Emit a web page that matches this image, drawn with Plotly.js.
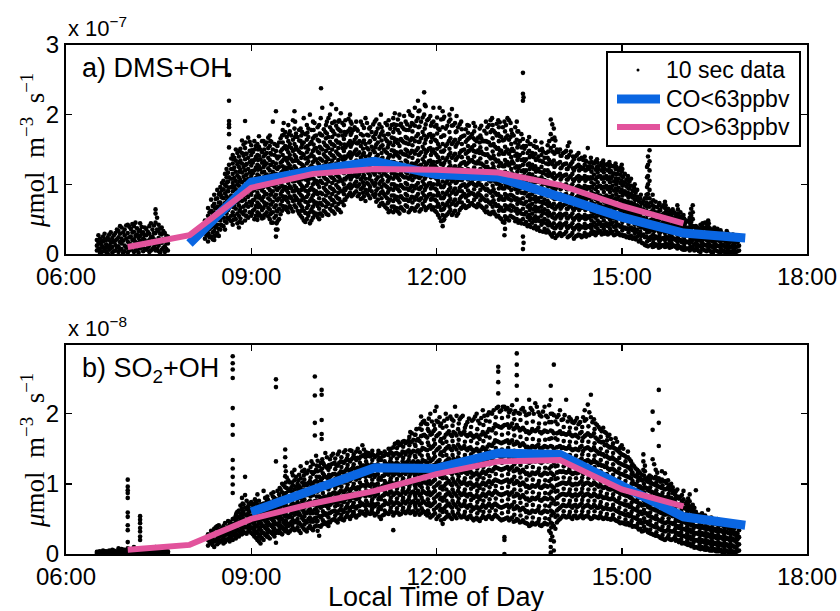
<!DOCTYPE html>
<html><head><meta charset="utf-8">
<script src="https://cdn.plot.ly/plotly-3.0.1.min.js"></script>
<style>html,body{margin:0;padding:0;background:#fff}#chart{width:840px;height:611px}</style>
</head><body><div id="chart"></div>
<script>
// ---------- axis labels ----------
const hourTicks = [6, 9, 12, 15, 18];
const hourTickText = ['06:00', '09:00', '12:00', '15:00', '18:00'];
const yTicksA = [0, 1, 2, 3];
const yTicksB = [0, 1, 2];
const legendLabels = ['10 sec data', 'CO&lt;63ppbv', 'CO&gt;63ppbv'];

// ---------- binned means (panel a, units 1e-7) ----------
const hoursA_low = [8, 9, 10, 11, 12, 13, 14, 15, 16, 17];
const dmsLowCO = [0.15, 1.03, 1.2, 1.33, 1.14, 1.1, 0.82, 0.53, 0.3, 0.23];
const hoursA_high = [7, 8, 9, 10, 11, 12, 13, 14, 15, 16];
const dmsHighCO = [0.1, 0.27, 0.95, 1.15, 1.22, 1.21, 1.17, 0.99, 0.69, 0.44];

// ---------- binned means (panel b, units 1e-8) ----------
const hoursB_low = [9, 10, 11, 12, 13, 14, 15, 16, 17];
const so2LowCO = [0.6, 0.92, 1.23, 1.22, 1.44, 1.42, 0.98, 0.53, 0.41];
const hoursB_high = [7, 8, 9, 10, 11, 12, 13, 14, 15, 16];
const so2HighCO = [0.06, 0.13, 0.5, 0.72, 0.9, 1.14, 1.32, 1.34, 0.92, 0.68];

// ---------- 10 sec data, panel a (time columns, values in 1e-7) ----------
const dmsTimes = [6.50,6.55,6.60,6.65,6.70,6.75,6.80,6.85,6.90,6.95,7.00,7.05,7.10,7.15,7.20,7.25,7.30,7.35,7.40,7.45,7.50,7.55,7.60,7.65,
8.25,8.30,8.35,8.40,8.45,8.50,8.55,8.60,8.64,8.70,8.75,8.80,8.85,8.90,8.95,9.00,9.05,9.10,9.15,9.20,9.25,9.30,9.35,9.40,9.45,9.50,9.55,9.60,9.65,9.70,9.75,9.80,9.85,9.90,9.95,
10.00,10.05,10.10,10.13,10.15,10.20,10.25,10.30,10.35,10.40,10.45,10.50,10.55,10.60,10.65,10.70,10.75,10.80,10.85,10.90,10.95,
11.00,11.05,11.10,11.15,11.20,11.25,11.30,11.35,11.40,11.45,11.50,11.55,11.60,11.65,11.70,11.75,11.80,11.85,11.90,11.95,
12.00,12.05,12.10,12.15,12.20,12.25,12.30,12.35,12.40,12.45,12.50,12.55,12.60,12.65,12.70,12.75,12.80,12.85,12.90,12.95,
13.00,13.05,13.10,13.15,13.20,13.25,13.30,13.35,13.40,13.45,13.50,13.55,13.60,13.65,13.70,13.75,13.80,13.85,13.90,13.95,
14.00,14.05,14.10,14.15,14.20,14.25,14.30,14.35,14.40,14.45,14.50,14.55,14.60,14.65,14.70,14.75,14.80,14.85,14.90,14.95,
15.00,15.05,15.10,15.15,15.20,15.25,15.30,15.35,15.40,15.45,15.50,15.55,15.60,15.65,15.70,15.75,15.80,15.85,15.90,15.95,
16.00,16.05,16.10,16.15,16.20,16.25,16.30,16.35,16.40,16.45,16.50,16.55,16.60,16.65,16.70,16.75,16.80,16.85,16.90];
const dmsCols = [
[0.05,0.12,0.2],[0.02,0.08,0.15,0.22],[0.04,0.1,0.18,0.25],[0.03,0.09,0.14,0.2],[0.06,0.12,0.2,0.28],[0.02,0.1,0.17,0.23],
[0.05,0.13,0.19,0.3],[0.03,0.11,0.24,0.33],[0.07,0.15,0.22,0.38],[0.04,0.12,0.27,0.35],[0.02,0.1,0.18,0.3,0.42],[0.06,0.14,0.25,0.36],
[0.03,0.12,0.21,0.32,0.4],[0.05,0.16,0.28,0.37],[0.08,0.19,0.26,0.34,0.44],[0.04,0.13,0.22,0.31],[0.06,0.15,0.27,0.36],[0.03,0.12,0.2,0.29,0.4],
[0.07,0.17,0.25,0.35],[0.05,0.14,0.3,0.45,0.58,0.64],[0.04,0.12,0.23,0.33,0.42],[0.06,0.16,0.28,0.38],[0.03,0.11,0.2,0.3],[0.05,0.15,0.25],
[0.22,0.35,0.48],[0.18,0.3,0.42,0.55,0.66],[0.25,0.38,0.5,0.62,0.78],[0.2,0.33,0.45,0.6,0.72,0.85],[0.3,0.42,0.55,0.68,0.8,0.92],
[0.35,0.48,0.6,0.74,0.88,0.96],[0.4,0.52,0.66,0.8,0.93,1.05],[0.45,0.58,0.7,0.83,0.97,1.1,1.22],
[0.5,0.66,0.8,0.95,1.1,1.28,1.53,1.72,1.82,1.86,1.91,2.2,2.57],
[0.42,0.6,0.75,0.9,1.02,1.15,1.3,1.42],[0.5,0.65,0.8,0.93,1.05,1.18,1.34,1.5],[0.38,0.55,0.7,0.85,0.98,1.1,1.25,1.4],
[0.45,0.6,0.76,0.9,1.03,1.17,1.3,1.45,1.63],[0.48,0.62,0.78,0.92,1.06,1.2,1.36,1.52,1.91],[0.52,0.68,0.82,0.95,1.08,1.22,1.38,1.67],
[0.55,0.7,0.85,0.98,1.12,1.27,1.42,1.56],[0.5,0.64,0.78,0.92,1.05,1.2,1.35,1.5,1.62],[0.49,0.6,0.74,0.88,1.0,1.14,1.28,1.42,1.58],
[0.55,0.68,0.8,0.95,1.08,1.22,1.36,1.5],[0.52,0.66,0.82,0.96,1.1,1.25,1.4,1.62],[0.6,0.72,0.86,1.0,1.14,1.3,1.45,1.6],
[0.5,0.64,0.78,0.92,1.06,1.2,1.35,1.55,1.7],[0.45,0.6,0.75,0.9,1.04,1.18,1.32,1.5,1.9],[0.25,0.35,0.55,0.7,0.85,1.0,1.15,1.3,1.48,2.05],
[0.5,0.65,0.8,0.95,1.1,1.25,1.4,1.6],[0.62,0.76,0.9,1.04,1.18,1.33,1.5,1.7],[0.68,0.82,0.96,1.1,1.24,1.38,1.55,1.75],
[0.6,0.74,0.88,1.02,1.16,1.3,1.46,1.62,1.85],[0.65,0.8,0.94,1.08,1.22,1.36,1.52,1.7],[0.7,0.84,0.98,1.12,1.26,1.42,1.58,1.8,2.05],
[0.62,0.78,0.92,1.06,1.2,1.34,1.5,1.68],[0.55,0.7,0.85,1.0,1.15,1.3,1.45,1.62,1.8],[0.48,0.62,0.8,0.95,1.1,1.26,1.42,1.6,1.95],
[0.5,0.66,0.82,0.98,1.14,1.3,1.46,1.64,1.85],[0.44,0.6,0.76,0.92,1.08,1.24,1.4,1.58,2.0],
[0.52,0.68,0.84,1.0,1.16,1.32,1.48,1.66,1.9],[0.58,0.74,0.9,1.05,1.2,1.36,1.52,1.7],[0.5,0.65,0.8,0.96,1.12,1.28,1.45,1.62,1.85],[2.38],
[0.55,0.7,0.86,1.02,1.18,1.34,1.5,1.7,2.1],[0.6,0.76,0.92,1.08,1.24,1.4,1.56,1.75],[0.56,0.72,0.88,1.04,1.2,1.36,1.52,1.68,1.95],
[0.62,0.78,0.94,1.1,1.26,1.42,1.58,1.78,2.15],[0.58,0.74,0.9,1.06,1.22,1.38,1.55,1.72,1.9],[0.64,0.8,0.96,1.12,1.28,1.44,1.6,1.8],
[0.6,0.75,0.9,1.06,1.22,1.4,1.58,1.76,2.02],[0.7,0.86,1.0,1.16,1.32,1.48,1.65,1.85],[0.82,0.95,1.1,1.25,1.4,1.56,1.75],
[0.88,1.0,1.14,1.3,1.46,1.62,1.8,2.0],[0.85,0.98,1.12,1.28,1.44,1.6,1.78],[0.9,1.04,1.18,1.34,1.5,1.68,1.9],
[0.86,1.0,1.15,1.3,1.46,1.62],[0.8,0.95,1.1,1.25,1.42,1.6,1.85],[0.76,0.92,1.08,1.24,1.4,1.58,1.95],[0.84,1.0,1.16,1.32,1.5,1.7],[0.9,1.05,1.2,1.36,1.54,1.75],
[0.82,0.98,1.14,1.3,1.46,1.65,1.9],[0.78,0.94,1.1,1.26,1.42,1.6,1.8],[0.72,0.88,1.04,1.2,1.36,1.54,1.72,2.0],[0.7,0.86,1.0,1.16,1.32,1.5,1.7],
[0.65,0.8,0.96,1.12,1.28,1.45,1.62,1.85],[0.62,0.78,0.94,1.1,1.26,1.42,1.6,1.8],[0.6,0.76,0.92,1.08,1.24,1.4,1.56,1.75,1.95],
[0.66,0.82,0.98,1.14,1.3,1.46,1.64,1.85],[0.58,0.74,0.9,1.06,1.22,1.38,1.55,1.74,2.0],[0.64,0.8,0.96,1.12,1.28,1.44,1.62,1.82],
[0.7,0.86,1.02,1.18,1.34,1.5,1.68,1.9],[0.6,0.76,0.92,1.08,1.24,1.4,1.58,1.78,2.05],[0.66,0.82,0.98,1.14,1.3,1.48,1.66,1.88],
[0.62,0.78,0.94,1.1,1.26,1.44,1.62,1.84,2.1],[0.7,0.86,1.02,1.18,1.34,1.52,1.72,1.95,2.2],[0.64,0.8,0.96,1.12,1.28,1.46,1.66,1.9],
[0.68,0.84,1.0,1.16,1.32,1.5,1.7,2.0,2.32],[0.66,0.82,0.98,1.14,1.3,1.48,1.68,1.92],[0.7,0.86,1.02,1.18,1.34,1.52,1.72,1.98],
[0.67,0.84,1.0,1.16,1.32,1.5,1.7,1.9,2.1],
[0.6,0.76,0.92,1.08,1.24,1.42,1.62,1.85],[0.52,0.68,0.84,1.0,1.16,1.34,1.54,1.78,2.1],[0.4,0.56,0.72,0.88,1.04,1.2,1.38,1.58,1.82,2.05],
[0.55,0.7,0.86,1.02,1.18,1.35,1.55,1.8],[0.6,0.76,0.92,1.08,1.24,1.42,1.62,1.9],[0.56,0.72,0.88,1.04,1.2,1.38,1.58,1.84,2.08],
[0.62,0.78,0.94,1.1,1.26,1.44,1.64,1.88],[0.58,0.74,0.9,1.06,1.22,1.4,1.6,1.82],[0.66,0.82,0.98,1.14,1.3,1.48,1.68,1.9],
[0.7,0.86,1.0,1.16,1.32,1.5,1.7],[0.68,0.84,0.98,1.14,1.3,1.46,1.64,1.85],[0.72,0.88,1.02,1.18,1.34,1.5,1.68],
[0.7,0.86,1.0,1.16,1.32,1.48,1.66,1.88],[0.67,0.82,0.98,1.14,1.3,1.46,1.62],[0.7,0.85,1.0,1.15,1.3,1.45,1.6,1.8],
[0.66,0.8,0.96,1.12,1.28,1.44,1.62],[0.6,0.76,0.92,1.08,1.24,1.42,1.62,1.9],[0.58,0.74,0.9,1.06,1.22,1.4,1.6,1.85],
[0.6,0.75,0.9,1.06,1.22,1.38,1.56,1.78,1.95],[0.57,0.72,0.88,1.04,1.2,1.36,1.54,1.74],
[0.55,0.7,0.86,1.02,1.18,1.34,1.52,1.72,1.92],[0.5,0.66,0.82,0.98,1.14,1.3,1.48,1.68],[0.27,0.45,0.62,0.78,0.94,1.1,1.26,1.44,1.64,1.9],
[0.52,0.68,0.84,1.0,1.16,1.32,1.5,1.7,1.95],[0.55,0.7,0.85,1.0,1.15,1.3,1.48,1.68,1.88],[0.52,0.67,0.82,0.98,1.14,1.3,1.48,1.7],
[0.5,0.65,0.8,0.95,1.1,1.26,1.44,1.64,1.9],[0.48,0.62,0.78,0.94,1.1,1.26,1.42,1.62],
[0.07,0.25,0.5,0.65,0.8,0.96,1.12,1.28,1.45,1.65,2.2,2.3,2.6],[0.46,0.6,0.75,0.9,1.05,1.2,1.36,1.55],
[0.42,0.56,0.7,0.85,1.0,1.15,1.3,1.48,1.68],[0.45,0.58,0.72,0.86,1.0,1.14,1.28,1.45],[0.4,0.54,0.68,0.82,0.96,1.1,1.26,1.44,1.62],
[0.38,0.52,0.66,0.8,0.94,1.08,1.22,1.4],[0.42,0.55,0.68,0.82,0.96,1.1,1.25,1.42,1.6],[0.36,0.5,0.64,0.78,0.92,1.06,1.2,1.38],
[0.34,0.48,0.62,0.76,0.9,1.04,1.2,1.38,1.56],[0.28,0.42,0.56,0.7,0.84,0.98,1.14,1.32,1.52,1.72,1.93],
[0.3,0.44,0.58,0.72,0.86,1.0,1.16,1.34,1.55,1.8],[0.26,0.4,0.54,0.68,0.82,0.96,1.12,1.3,1.5],
[0.3,0.44,0.58,0.72,0.86,1.0,1.15,1.32,1.5],[0.28,0.42,0.56,0.7,0.84,0.98,1.12,1.28,1.45],[0.32,0.45,0.58,0.72,0.86,1.0,1.14,1.3,1.48],
[0.26,0.4,0.54,0.68,0.82,0.96,1.1,1.26,1.42,1.6],[0.3,0.44,0.58,0.72,0.86,1.0,1.15,1.32],[0.25,0.38,0.52,0.66,0.8,0.94,1.08,1.24,1.4],
[0.28,0.42,0.56,0.7,0.84,0.98,1.12,1.28,1.45],[0.24,0.38,0.52,0.66,0.8,0.94,1.08,1.22,1.38],[0.3,0.43,0.56,0.7,0.84,0.98,1.12,1.28,1.4],
[0.28,0.4,0.54,0.68,0.82,0.96,1.1,1.25,1.52],[0.3,0.42,0.55,0.68,0.82,0.96,1.1,1.26,1.38],[0.32,0.45,0.58,0.72,0.86,1.0,1.14,1.3],
[0.3,0.42,0.55,0.68,0.82,0.96,1.1,1.25,1.36],[0.33,0.45,0.58,0.71,0.84,0.98,1.12,1.27],[0.3,0.42,0.55,0.68,0.82,0.96,1.1,1.24,1.34],
[0.32,0.44,0.56,0.7,0.84,0.98,1.12,1.28],[0.3,0.43,0.56,0.69,0.82,0.96,1.1,1.25,1.32],[0.32,0.45,0.58,0.7,0.84,0.98,1.12,1.26],
[0.28,0.4,0.53,0.66,0.8,0.94,1.08,1.22,1.3],[0.3,0.42,0.55,0.68,0.82,0.95,1.08,1.2],
[0.28,0.4,0.52,0.65,0.78,0.92,1.05,1.18,1.28],[0.27,0.38,0.5,0.63,0.76,0.9,1.03,1.15],[0.25,0.37,0.5,0.62,0.75,0.88,1.0,1.12],
[0.26,0.38,0.5,0.62,0.74,0.86,0.98,1.08],[0.24,0.36,0.48,0.6,0.72,0.84,0.95],[0.25,0.35,0.46,0.58,0.7,0.82,0.92],
[0.2,0.32,0.44,0.56,0.68,0.8],[0.15,0.28,0.4,0.52,0.64,0.76],[0.12,0.25,0.38,0.5,0.62,0.74,0.85],
[0.2,0.32,0.44,0.56,0.68,0.8,0.92,1.05,1.2,1.33,1.49],[0.1,0.22,0.34,0.46,0.58,0.7,0.85],[0.14,0.25,0.36,0.48,0.6,0.75],
[0.09,0.2,0.32,0.44,0.56,0.7],[0.12,0.22,0.33,0.44,0.56,0.68],[0.1,0.2,0.3,0.42,0.54,0.66,0.75],[0.14,0.24,0.34,0.45,0.56,0.65],
[0.1,0.2,0.3,0.4,0.52,0.62],[0.12,0.22,0.32,0.42,0.52,0.6],[0.08,0.18,0.28,0.38,0.48,0.58,0.7],[0.1,0.2,0.3,0.4,0.5,0.6],
[0.06,0.16,0.26,0.36,0.46,0.56],[0.08,0.18,0.28,0.38,0.48],[0.05,0.15,0.25,0.35,0.45,0.52],[0.1,0.2,0.3,0.4,0.5,0.6,0.7],
[0.06,0.15,0.24,0.33,0.4],[0.04,0.12,0.2,0.28,0.36],[0.08,0.16,0.24,0.32,0.4],[0.05,0.13,0.22,0.3,0.38,0.45],
[0.07,0.15,0.23,0.31,0.4,0.48],[0.03,0.11,0.19,0.27,0.35],[0.06,0.14,0.22,0.3,0.38],[0.04,0.12,0.2,0.28,0.36],
[0.02,0.1,0.18,0.26,0.34],[0.05,0.13,0.21,0.29],[0.03,0.11,0.19,0.27,0.33],[0.02,0.09,0.17,0.25],[0.04,0.12,0.2,0.28],
[0.03,0.1,0.18],[0.05,0.12,0.2]];

// panel a, in-between samples: each row = [time, values...]
const dmsRows2 = [
[6.525,0.07,0.16,0.27],[6.575,0.03,0.13,0.19],[6.625,0.06,0.21,0.29],[6.675,0.01,0.11,0.24],[6.725,0.08,0.16,0.31],[6.775,0.04,0.18,0.27],
[6.825,0.09,0.21,0.35],[6.875,0.06,0.17,0.29,0.4],[6.925,0.02,0.19,0.31],[6.975,0.09,0.22,0.41],[7.025,0.05,0.15,0.24,0.39],[7.075,0.1,0.2,0.31,0.43],
[7.125,0.07,0.17,0.26,0.45],[7.175,0.02,0.23,0.33],[7.225,0.1,0.16,0.29,0.39],[7.275,0.07,0.2,0.27,0.38],[7.325,0.09,0.18,0.32],[7.375,0.05,0.16,0.24,0.44],
[7.425,0.1,0.21,0.3,0.41],[7.475,0.08,0.19,0.35,0.52],[7.525,0.02,0.17,0.29,0.37],[7.575,0.09,0.21,0.33],[7.625,0.07,0.16,0.26],
[8.275,0.27,0.4],[8.325,0.24,0.36,0.47,0.6],[8.375,0.21,0.31,0.44,0.56,0.69],[8.425,0.27,0.38,0.53,0.66,0.79],[8.475,0.26,0.36,0.49,0.61,0.74,0.86],
[8.525,0.41,0.53,0.67,0.81,0.92,1.02],[8.575,0.35,0.47,0.59,0.73,0.87,0.99,1.15],[8.625,0.52,0.63,0.76,0.9,1.04,1.17],
[8.675,0.47,0.55,0.69,0.84,0.96,1.08,1.22,1.37],[8.725,0.55,0.69,0.81,0.97,1.09,1.24,1.38],[8.775,0.44,0.58,0.74,0.87,1.0,1.13,1.29,1.45],
[8.825,0.51,0.66,0.79,0.91,1.06,1.21,1.34,1.51],[8.875,0.57,0.68,0.83,0.97,1.11,1.25,1.41,1.57],[8.925,0.55,0.72,0.87,0.99,1.14,1.29,1.44],
[8.975,0.6,0.75,0.9,1.03,1.17,1.32,1.48,1.61],[9.025,0.62,0.77,0.91,1.02,1.16,1.31,1.46],[9.075,0.55,0.69,0.83,0.97,1.09,1.24,1.39,1.55],
[9.125,0.58,0.71,0.84,0.99,1.12,1.26,1.41,1.54,1.69],[9.175,0.51,0.63,0.77,0.91,1.05,1.17,1.31,1.46,1.62],[9.225,0.57,0.7,0.86,0.99,1.12,1.28,1.43,1.57],
[9.275,0.54,0.66,0.8,0.95,1.09,1.23,1.38,1.52,1.67],[9.325,0.45,0.59,0.71,0.86,0.99,1.13,1.28,1.43,1.61],[9.375,0.52,0.67,0.82,0.97,1.11,1.25,1.42,1.58],
[9.425,0.35,0.47,0.61,0.77,0.92,1.07,1.22,1.37,1.55],[9.475,0.57,0.71,0.86,1.01,1.16,1.31,1.47,1.66],[9.525,0.65,0.79,0.93,1.07,1.21,1.36,1.52,1.71,1.88],
[9.575,0.63,0.77,0.91,1.05,1.2,1.34,1.5,1.68],[9.625,0.69,0.83,0.97,1.11,1.27,1.42,1.58,1.76],[9.675,0.61,0.76,0.9,1.04,1.19,1.33,1.48,1.64,1.92],
[9.725,0.67,0.81,0.95,1.09,1.23,1.39,1.54,1.73],[9.775,0.58,0.73,0.88,1.03,1.17,1.31,1.47,1.63,1.78],[9.825,0.52,0.67,0.83,0.97,1.12,1.28,1.44,1.58,1.75],
[9.875,0.46,0.59,0.75,0.91,1.07,1.21,1.37,1.53,1.72],[9.925,0.55,0.7,0.86,1.02,1.17,1.33,1.5,1.68,1.8],[9.975,0.48,0.64,0.8,0.95,1.11,1.27,1.43,1.61,1.78],
[10.025,0.56,0.72,0.87,1.03,1.19,1.35,1.51,1.69,1.88],[10.075,0.53,0.69,0.86,1.0,1.15,1.31,1.47,1.64,1.82],[10.125,0.58,0.73,0.88,1.05,1.2,1.36,1.52,1.71,1.95],
[10.175,0.62,0.78,0.95,1.11,1.27,1.43,1.6,1.79],[10.225,0.57,0.74,0.9,1.07,1.22,1.38,1.55,1.73,1.9],[10.275,0.65,0.81,0.96,1.13,1.29,1.45,1.61,1.82,2.0],
[10.325,0.61,0.77,0.93,1.09,1.25,1.41,1.57,1.76],[10.375,0.67,0.83,0.99,1.14,1.3,1.47,1.63,1.84,2.08],[10.425,0.63,0.79,0.94,1.1,1.26,1.42,1.6,1.78,1.92],
[10.475,0.74,0.9,1.04,1.2,1.36,1.52,1.7,1.88],[10.525,0.78,0.92,1.07,1.22,1.37,1.53,1.71,1.92],[10.575,0.85,0.98,1.12,1.28,1.43,1.59,1.77,1.94],
[10.625,0.83,0.96,1.1,1.25,1.41,1.57,1.74,1.87],[10.675,0.88,1.01,1.15,1.31,1.47,1.64,1.82],[10.725,0.83,0.97,1.11,1.27,1.43,1.59,1.77],
[10.775,0.79,0.93,1.07,1.22,1.38,1.55,1.72,1.9],[10.825,0.83,0.98,1.13,1.28,1.45,1.63,1.81],[10.875,0.87,1.02,1.19,1.35,1.52,1.71,1.88],
[10.925,0.8,0.96,1.12,1.28,1.44,1.62,1.82],[10.975,0.85,1.01,1.17,1.33,1.49,1.68,1.86],[11.025,0.75,0.91,1.07,1.23,1.39,1.57,1.75,1.93],
[11.075,0.69,0.85,1.01,1.17,1.33,1.51,1.68,1.86],[11.125,0.73,0.9,1.06,1.22,1.38,1.56,1.76],[11.175,0.67,0.83,0.98,1.14,1.3,1.47,1.65,1.88],
[11.225,0.6,0.75,0.91,1.07,1.23,1.39,1.57,1.72,1.92],[11.275,0.68,0.84,1.0,1.16,1.32,1.49,1.67,1.85],[11.325,0.63,0.79,0.95,1.11,1.27,1.43,1.61,1.8,2.02],
[11.375,0.61,0.77,0.93,1.09,1.25,1.41,1.59,1.78,1.93],[11.425,0.67,0.83,0.99,1.15,1.31,1.47,1.65,1.87],[11.475,0.62,0.78,0.94,1.1,1.26,1.43,1.6,1.79,1.98],
[11.525,0.68,0.84,1.0,1.16,1.32,1.48,1.66,1.86],[11.575,0.63,0.79,0.95,1.11,1.27,1.45,1.63,1.83,2.0],[11.625,0.65,0.81,0.97,1.13,1.29,1.47,1.65,1.86],
[11.675,0.67,0.83,0.99,1.15,1.31,1.49,1.69,1.91],[11.725,0.61,0.77,0.93,1.09,1.25,1.43,1.61,1.83,2.06],[11.775,0.72,0.88,1.04,1.2,1.36,1.54,1.75,1.96],
[11.825,0.63,0.79,0.95,1.11,1.27,1.45,1.64,1.86,2.12],[11.875,0.68,0.85,1.01,1.17,1.33,1.51,1.71,1.94],[11.925,0.64,0.8,0.97,1.13,1.29,1.47,1.67,1.88],
[11.975,0.62,0.78,0.94,1.1,1.27,1.45,1.64,1.83],[12.025,0.56,0.72,0.88,1.05,1.21,1.39,1.58,1.8],[12.075,0.47,0.63,0.8,0.96,1.12,1.29,1.47,1.68,1.93],
[12.125,0.5,0.66,0.82,0.98,1.14,1.31,1.49,1.7,1.97],[12.175,0.57,0.73,0.89,1.05,1.21,1.38,1.58,1.84],[12.225,0.63,0.79,0.95,1.11,1.27,1.45,1.66,1.93],
[12.275,0.59,0.75,0.91,1.07,1.23,1.41,1.61,1.85],[12.325,0.55,0.71,0.87,1.03,1.19,1.37,1.57,1.76,1.98],[12.375,0.63,0.79,0.95,1.11,1.27,1.45,1.65,1.86],
[12.425,0.68,0.84,0.99,1.15,1.31,1.49,1.69],[12.475,0.66,0.81,0.96,1.12,1.28,1.44,1.61,1.79],[12.525,0.69,0.85,1.0,1.16,1.32,1.48,1.66,1.84],
[12.575,0.73,0.87,1.03,1.19,1.35,1.53,1.72],[12.625,0.69,0.84,0.99,1.15,1.31,1.47,1.64,1.83],[12.675,0.72,0.87,1.02,1.17,1.33,1.49,1.67],
[12.725,0.68,0.83,0.99,1.14,1.3,1.47,1.66,1.84],[12.775,0.63,0.78,0.94,1.1,1.26,1.43,1.62,1.77],[12.825,0.61,0.77,0.93,1.09,1.25,1.43,1.61,1.82],
[12.875,0.57,0.72,0.88,1.04,1.2,1.37,1.56,1.75,1.92],[12.925,0.61,0.77,0.93,1.09,1.25,1.41,1.58,1.77],[12.975,0.54,0.69,0.85,1.01,1.17,1.33,1.51,1.7,1.87],
[13.025,0.52,0.67,0.83,0.99,1.15,1.31,1.49,1.69,1.89],[13.075,0.46,0.62,0.78,0.94,1.1,1.26,1.44,1.63,1.82],[13.125,0.5,0.65,0.81,0.97,1.13,1.29,1.47,1.67,1.85],
[13.175,0.48,0.64,0.79,0.95,1.11,1.27,1.44,1.64,1.92],[13.225,0.53,0.69,0.84,1.0,1.16,1.33,1.51,1.73],[13.275,0.47,0.62,0.78,0.93,1.08,1.24,1.41,1.6,1.82],
[13.325,0.45,0.6,0.76,0.92,1.07,1.23,1.39,1.57,1.76],[13.375,0.44,0.58,0.73,0.88,1.03,1.19,1.35,1.53,1.72],[13.425,0.43,0.57,0.72,0.87,1.02,1.17,1.33,1.51],
[13.475,0.4,0.53,0.68,0.83,0.97,1.12,1.28,1.45,1.62],[13.525,0.39,0.52,0.66,0.8,0.95,1.1,1.25,1.41,1.58],[13.575,0.37,0.5,0.64,0.79,0.93,1.07,1.22,1.39,1.55],
[13.625,0.35,0.49,0.63,0.77,0.91,1.05,1.2,1.36,1.53],[13.675,0.33,0.47,0.61,0.75,0.89,1.03,1.18,1.34,1.49],[13.725,0.32,0.45,0.59,0.73,0.87,1.01,1.16,1.32,1.47],
[13.775,0.31,0.44,0.58,0.72,0.86,1.0,1.14,1.3,1.45],[13.825,0.31,0.45,0.59,0.73,0.87,1.01,1.17,1.35,1.62],[13.875,0.25,0.39,0.53,0.67,0.81,0.95,1.11,1.29,1.47,1.65,1.86],
[13.925,0.23,0.37,0.51,0.65,0.79,0.93,1.09,1.27,1.46,1.63],[13.975,0.28,0.42,0.56,0.7,0.84,0.98,1.13,1.3,1.46],[14.025,0.26,0.39,0.53,0.67,0.81,0.95,1.09,1.24,1.41],
[14.075,0.29,0.43,0.57,0.71,0.85,0.99,1.13,1.29,1.46],[14.125,0.24,0.37,0.51,0.65,0.79,0.93,1.07,1.22,1.39,1.55],[14.175,0.27,0.41,0.55,0.69,0.83,0.97,1.12,1.29,1.47],
[14.225,0.22,0.35,0.49,0.63,0.77,0.91,1.05,1.2,1.36],[14.275,0.26,0.4,0.54,0.68,0.82,0.96,1.1,1.26,1.42],[14.325,0.27,0.4,0.54,0.68,0.82,0.96,1.1,1.25],
[14.375,0.26,0.39,0.53,0.67,0.81,0.95,1.09,1.24,1.35],[14.425,0.25,0.38,0.51,0.65,0.79,0.93,1.07,1.21,1.33],[14.475,0.27,0.39,0.52,0.66,0.8,0.94,1.08,1.22,1.31],
[14.525,0.29,0.41,0.54,0.67,0.81,0.95,1.09,1.24],[14.575,0.27,0.39,0.52,0.65,0.79,0.93,1.07,1.21,1.33],[14.625,0.31,0.43,0.56,0.69,0.83,0.97,1.11,1.22],
[14.675,0.28,0.4,0.53,0.66,0.8,0.94,1.08,1.2,1.31],[14.725,0.29,0.41,0.54,0.67,0.81,0.95,1.09,1.22],[14.775,0.28,0.4,0.53,0.66,0.79,0.93,1.07,1.2,1.29],
[14.825,0.3,0.42,0.55,0.68,0.81,0.94,1.08,1.19],[14.875,0.27,0.39,0.51,0.64,0.78,0.91,1.04,1.16,1.26],[14.925,0.29,0.41,0.53,0.66,0.79,0.92,1.05,1.15],
[14.975,0.27,0.39,0.51,0.63,0.76,0.89,1.02,1.14,1.24],[15.025,0.26,0.37,0.49,0.61,0.74,0.87,1.0,1.11],[15.075,0.24,0.36,0.48,0.6,0.72,0.85,0.97,1.07],
[15.125,0.23,0.35,0.47,0.59,0.71,0.83,0.94,1.04],[15.175,0.22,0.34,0.46,0.58,0.7,0.81,0.91],[15.225,0.21,0.32,0.43,0.55,0.67,0.78,0.88],
[15.275,0.18,0.29,0.41,0.53,0.65,0.76],[15.325,0.16,0.27,0.38,0.5,0.62,0.73],[15.375,0.13,0.24,0.36,0.48,0.59,0.7,0.8],
[15.425,0.11,0.23,0.35,0.47,0.59,0.72,0.86,1.0,1.12,1.28,1.4],[15.475,0.13,0.25,0.37,0.49,0.61,0.74],[15.525,0.11,0.22,0.33,0.45,0.57,0.68],
[15.575,0.12,0.23,0.35,0.47,0.59,0.67],[15.625,0.1,0.2,0.31,0.42,0.53,0.63],[15.675,0.13,0.23,0.35,0.47,0.58,0.7],[15.725,0.11,0.22,0.32,0.43,0.53,0.62],
[15.775,0.09,0.19,0.29,0.4,0.5,0.59],[15.825,0.11,0.21,0.31,0.41,0.51,0.64],[15.875,0.1,0.2,0.3,0.4,0.5,0.57],[15.925,0.09,0.19,0.29,0.39,0.49,0.55],
[15.975,0.07,0.17,0.27,0.37,0.47,0.54],[16.025,0.06,0.16,0.26,0.36,0.44],[16.075,0.08,0.17,0.27,0.37,0.47],[16.125,0.07,0.17,0.27,0.37,0.46,0.55,0.65],
[16.175,0.05,0.14,0.23,0.31,0.39],[16.225,0.06,0.14,0.22,0.3,0.38],[16.275,0.03,0.11,0.19,0.27,0.35,0.42],[16.325,0.06,0.14,0.22,0.29,0.37],
[16.375,0.04,0.12,0.2,0.28,0.36,0.43],[16.425,0.05,0.13,0.21,0.29,0.37],[16.475,0.02,0.1,0.18,0.26,0.33],[16.525,0.05,0.13,0.21,0.29],
[16.575,0.03,0.11,0.19,0.27,0.31],[16.625,0.04,0.12,0.2,0.27],[16.675,0.02,0.1,0.18,0.24],[16.725,0.04,0.12,0.2,0.29],[16.775,0.03,0.11,0.19],
[16.825,0.02,0.08,0.15,0.23],[16.875,0.04,0.11,0.17]];

// panel a, further samples: each row = [time, values...]
const dmsRows3 = [
[8.31,0.28,0.44],[8.41,0.26,0.39,0.52,0.66],[8.51,0.42,0.55,0.7,0.84],[8.61,0.52,0.64,0.77,0.9,1.03,1.16],[8.71,0.49,0.67,0.82,0.96,1.08,1.22,1.36],
[8.81,0.46,0.62,0.77,0.91,1.04,1.18,1.32,1.48],[8.91,0.55,0.7,0.85,0.99,1.13,1.28,1.44,1.6],[9.01,0.58,0.73,0.9,1.05,1.19,1.34,1.49],
[9.11,0.55,0.67,0.81,0.94,1.07,1.21,1.35,1.5],[9.21,0.56,0.74,0.89,1.03,1.18,1.33,1.5],[9.31,0.57,0.71,0.85,0.99,1.13,1.28,1.45,1.62],
[9.41,0.44,0.62,0.78,0.93,1.08,1.23,1.4,1.56],[9.51,0.69,0.83,0.97,1.11,1.26,1.42,1.6,1.78],[9.61,0.67,0.81,0.95,1.09,1.24,1.38,1.54,1.72],
[9.71,0.77,0.91,1.05,1.19,1.34,1.5,1.68,1.9],[9.81,0.62,0.77,0.92,1.07,1.22,1.38,1.53,1.7],[9.91,0.58,0.74,0.9,1.06,1.22,1.38,1.55,1.74],
[10.01,0.6,0.76,0.92,1.08,1.24,1.4,1.57,1.78],[10.11,0.58,0.73,0.88,1.04,1.2,1.37,1.54,1.73],[10.21,0.68,0.84,1.0,1.16,1.32,1.48,1.66,1.85],
[10.31,0.7,0.86,1.02,1.18,1.34,1.5,1.68,1.88],[10.41,0.72,0.88,1.04,1.2,1.35,1.52,1.7,1.9],[10.51,0.78,0.94,1.08,1.24,1.4,1.57,1.75],
[10.61,0.94,1.07,1.22,1.38,1.54,1.71,1.9],[10.71,0.97,1.11,1.26,1.42,1.59,1.79],[10.81,0.88,1.03,1.18,1.34,1.51,1.7],
[10.91,0.92,1.08,1.24,1.41,1.6,1.8],[11.01,0.86,1.02,1.18,1.35,1.53,1.72],[11.11,0.8,0.96,1.12,1.28,1.45,1.63,1.82],
[11.21,0.73,0.88,1.04,1.2,1.36,1.53,1.72],[11.31,0.68,0.84,1.0,1.16,1.32,1.48,1.66,1.86],[11.41,0.66,0.82,0.98,1.14,1.3,1.46,1.64,1.85],
[11.51,0.78,0.94,1.1,1.26,1.42,1.59,1.78],[11.61,0.74,0.9,1.06,1.22,1.38,1.56,1.76,1.98],[11.71,0.78,0.94,1.1,1.26,1.42,1.61,1.82,2.05],
[11.81,0.76,0.92,1.08,1.24,1.4,1.59,1.8,2.14],[11.91,0.78,0.94,1.1,1.26,1.42,1.61,1.84],[12.01,0.68,0.84,1.0,1.16,1.32,1.51,1.73,1.96],
[12.11,0.48,0.64,0.8,0.96,1.12,1.28,1.47,1.7,1.94],[12.21,0.68,0.84,1.0,1.16,1.32,1.51,1.75,2.0],[12.31,0.7,0.86,1.02,1.18,1.35,1.54,1.75],
[12.41,0.74,0.9,1.06,1.22,1.39,1.58,1.79],[12.51,0.76,0.91,1.07,1.22,1.38,1.55,1.74],[12.61,0.78,0.93,1.08,1.24,1.4,1.56,1.76],
[12.71,0.77,0.92,1.07,1.22,1.37,1.53,1.7],[12.81,0.68,0.84,1.0,1.16,1.32,1.51,1.73],[12.91,0.68,0.83,0.98,1.14,1.3,1.47,1.66,1.85],
[13.01,0.62,0.78,0.94,1.1,1.26,1.43,1.62,1.82],[13.11,0.36,0.54,0.7,0.86,1.02,1.18,1.35,1.54,1.76],[13.21,0.62,0.77,0.92,1.07,1.22,1.39,1.58,1.78],
[13.31,0.58,0.72,0.88,1.03,1.18,1.35,1.53,1.76],[13.41,0.16,0.57,0.72,0.88,1.04,1.2,1.36,1.55,2.25],[13.51,0.49,0.63,0.77,0.92,1.07,1.22,1.39,1.58],
[13.61,0.47,0.61,0.75,0.89,1.03,1.18,1.35,1.53],[13.71,0.48,0.62,0.75,0.89,1.03,1.17,1.33,1.51],[13.81,0.41,0.55,0.69,0.83,0.97,1.12,1.29,1.47],
[13.91,0.37,0.51,0.65,0.79,0.93,1.08,1.25,1.44,1.67],[14.01,0.37,0.51,0.65,0.79,0.93,1.07,1.23,1.41],[14.11,0.39,0.52,0.65,0.79,0.93,1.07,1.22,1.39],
[14.21,0.37,0.51,0.65,0.79,0.93,1.07,1.23,1.4],[14.31,0.35,0.49,0.63,0.77,0.91,1.05,1.2,1.36],[14.41,0.37,0.5,0.63,0.77,0.91,1.05,1.2,1.34],
[14.51,0.36,0.48,0.61,0.75,0.89,1.03,1.18,1.32],[14.61,0.36,0.48,0.61,0.75,0.89,1.03,1.17,1.31],[14.71,0.36,0.48,0.61,0.75,0.89,1.03,1.17,1.29],
[14.81,0.36,0.49,0.62,0.75,0.89,1.03,1.17,1.28],[14.91,0.34,0.46,0.59,0.72,0.86,1.0,1.14,1.25],[15.01,0.34,0.46,0.58,0.71,0.84,0.98,1.11,1.22],
[15.11,0.31,0.43,0.56,0.68,0.81,0.94,1.06],[15.21,0.3,0.42,0.54,0.66,0.78,0.9,1.0],[15.31,0.26,0.38,0.5,0.62,0.74,0.85],
[15.41,0.18,0.31,0.44,0.56,0.68,0.8,0.96,1.1,1.25],[15.51,0.16,0.28,0.4,0.52,0.64,0.77],[15.61,0.15,0.26,0.38,0.5,0.62,0.73],
[15.71,0.15,0.25,0.36,0.48,0.6,0.7],[15.81,0.15,0.25,0.35,0.46,0.57],[15.91,0.13,0.23,0.33,0.43,0.53,0.64],[16.01,0.11,0.21,0.31,0.41,0.51],
[16.11,0.1,0.2,0.3,0.4,0.49,0.58],[16.21,0.1,0.19,0.27,0.35],[16.31,0.12,0.2,0.28,0.36,0.44],[16.41,0.11,0.19,0.27,0.35,0.44],
[16.51,0.1,0.18,0.26,0.34],[16.61,0.06,0.14,0.22,0.3],[16.71,0.07,0.15,0.23,0.3],[16.81,0.08,0.16,0.24]];

// ---------- 10 sec data, panel b (time columns, values in 1e-8) ----------
const so2Times = [6.50,6.55,6.60,6.65,6.70,6.75,6.80,6.85,6.90,6.95,7.00,7.05,7.10,7.15,7.20,7.25,7.30,7.35,7.40,7.45,7.50,7.55,7.60,7.65,
8.30,8.35,8.40,8.45,8.50,8.55,8.60,8.65,8.70,8.75,8.80,8.85,8.90,8.95,9.00,9.05,9.10,9.15,9.20,9.25,9.30,9.35,9.40,9.45,9.50,9.55,9.60,9.65,9.70,9.75,9.80,9.85,9.90,9.95,
10.00,10.03,10.05,10.10,10.14,10.15,10.20,10.25,10.30,10.35,10.40,10.45,10.50,10.55,10.60,10.65,10.70,10.75,10.80,10.85,10.90,10.95,
11.00,11.05,11.10,11.15,11.20,11.25,11.30,11.35,11.40,11.45,11.50,11.55,11.60,11.65,11.70,11.75,11.80,11.85,11.90,11.95,
12.00,12.05,12.10,12.15,12.20,12.25,12.30,12.35,12.40,12.45,12.50,12.55,12.60,12.65,12.70,12.75,12.80,12.85,12.90,12.95,
13.00,13.05,13.10,13.15,13.20,13.25,13.30,13.35,13.40,13.45,13.50,13.55,13.60,13.65,13.70,13.75,13.80,13.85,13.90,13.95,
14.00,14.05,14.10,14.15,14.20,14.25,14.30,14.35,14.40,14.45,14.50,14.55,14.60,14.65,14.70,14.75,14.80,14.85,14.90,14.95,
15.00,15.05,15.10,15.15,15.20,15.25,15.30,15.35,15.40,15.45,15.50,15.55,15.60,15.65,15.70,15.75,15.80,15.85,15.90,15.95,
16.00,16.05,16.10,16.15,16.20,16.25,16.30,16.35,16.40,16.45,16.50,16.55,16.60,16.65,16.70,16.75,16.80,16.85,16.90];
const so2Cols = [
[0.0,0.03],[0.01,0.04],[0.0,0.02,0.05],[0.01,0.04],[0.02,0.05],[0.0,0.03,0.06],[0.01,0.04],[0.02,0.05,0.08],[0.01,0.04,0.07],[0.02,0.06],
[0.0,0.04,0.08,0.17,0.34,0.41,0.53,0.59,0.8,0.87,0.91,0.96,1.06],[0.01,0.05],[0.02,0.06,0.1],[0.0,0.04],
[0.03,0.07,0.2,0.25,0.32,0.37,0.44,0.49,0.54],[0.01,0.05],[0.02,0.06],[0.0,0.04,0.08],[0.02,0.05],[0.01,0.04,0.1],[0.02,0.06],
[0.0,0.03],[0.01,0.05],[0.02,0.04],
[0.12,0.2,0.28],[0.15,0.24,0.33],[0.1,0.18,0.27,0.36],[0.14,0.22,0.3,0.4],[0.18,0.26,0.34],[0.15,0.24,0.32,0.4],[0.2,0.28,0.36],
[0.18,0.26,0.34,0.42],[0.2,0.3,0.4,0.5,0.87,0.99,1.1,1.22,1.34,1.7,1.84,2.08,2.51,2.63,2.72,2.82],
[0.22,0.3,0.38,0.46,0.55],[0.25,0.33,0.42,0.52,0.62],[0.28,0.36,0.45,0.55,0.65,0.8],[0.3,0.38,0.47,0.56,0.66,0.84,1.1],
[0.32,0.4,0.48,0.58,0.68],[0.3,0.38,0.46,0.55,0.64,0.74],[0.25,0.33,0.42,0.5,0.6,0.72],[0.2,0.3,0.4,0.48,0.58,0.7,0.85],
[0.15,0.28,0.38,0.46,0.55,0.65],[0.2,0.3,0.4,0.5,0.6,0.72,0.9],[0.25,0.35,0.44,0.54,0.64,0.75],[0.22,0.32,0.42,0.52,0.62,0.74],
[0.28,0.38,0.48,0.58,0.7,0.82],[0.16,0.3,0.42,0.52,0.64,0.78,1.32,2.38,2.49],[0.3,0.4,0.5,0.6,0.72,0.85],
[0.28,0.38,0.5,0.62,0.74,0.88,1.0],[0.32,0.42,0.54,0.66,0.8,0.95,1.11,1.25,1.38,1.49],[0.3,0.4,0.52,0.64,0.76,0.9,1.05],
[0.35,0.46,0.58,0.7,0.82,0.95],[0.34,0.45,0.56,0.68,0.8,0.92,1.05,1.2],[0.38,0.5,0.62,0.74,0.86,1.0],
[0.3,0.42,0.55,0.68,0.8,0.94,1.08,1.25],[0.36,0.48,0.6,0.72,0.84,0.98,1.12],[0.32,0.45,0.58,0.7,0.84,0.98,1.15,1.3],
[0.4,0.52,0.64,0.76,0.9,1.04],
[0.34,0.46,0.58,0.7,0.84,0.98,1.14,1.28],[1.69,1.87,2.26,2.53],[0.4,0.52,0.64,0.76,0.9,1.04,1.2,1.4],[0.26,0.4,0.54,0.68,0.82,0.96,1.1,1.25],
[1.64,1.71,1.91,2.27,2.34],[0.42,0.55,0.68,0.8,0.94,1.08,1.22,1.35],[0.45,0.58,0.7,0.82,0.95,1.1,1.25,1.44],
[0.4,0.52,0.65,0.78,0.92,1.06,1.2],[0.48,0.6,0.72,0.85,0.98,1.12,1.28,1.4],[0.5,0.62,0.75,0.88,1.0,1.14,1.3],
[0.45,0.58,0.7,0.84,0.98,1.12,1.26,1.42],[0.52,0.64,0.76,0.9,1.04,1.18,1.32],[0.48,0.6,0.74,0.88,1.02,1.16,1.3,1.45],
[0.55,0.68,0.8,0.94,1.08,1.22,1.36],[0.5,0.62,0.76,0.9,1.04,1.18,1.32,1.48],[0.58,0.7,0.82,0.96,1.1,1.24,1.38],
[0.52,0.65,0.78,0.92,1.06,1.2,1.34,1.46],[0.56,0.68,0.8,0.94,1.08,1.22,1.36],[0.6,0.72,0.85,0.98,1.12,1.26,1.4,1.55],
[0.55,0.68,0.82,0.96,1.1,1.24,1.38],[0.58,0.7,0.84,0.98,1.12,1.26,1.4,1.44],[0.62,0.74,0.88,1.0,1.14,1.28,1.42],
[0.55,0.68,0.82,0.96,1.1,1.24,1.38],[0.6,0.72,0.86,1.0,1.14,1.28,1.42],[0.5,0.64,0.78,0.92,1.06,1.2,1.34,1.44],
[0.56,0.7,0.84,0.98,1.12,1.26,1.4],[0.58,0.72,0.86,1.0,1.14,1.28,1.42],[0.62,0.76,0.9,1.04,1.18,1.32,1.45],
[0.34,0.55,0.7,0.84,0.98,1.12,1.26,1.4,1.52],[0.6,0.74,0.88,1.02,1.16,1.3,1.44,1.58],[0.56,0.7,0.84,0.98,1.12,1.26,1.4,1.55],
[0.62,0.76,0.9,1.04,1.18,1.32,1.46,1.6],[0.58,0.72,0.86,1.0,1.14,1.28,1.42,1.58],[0.64,0.78,0.92,1.06,1.2,1.34,1.48,1.62],
[0.6,0.74,0.88,1.02,1.16,1.3,1.45,1.6,1.72],[0.56,0.7,0.84,0.98,1.12,1.26,1.4,1.56,1.7],[0.62,0.76,0.9,1.04,1.18,1.32,1.48,1.64],
[0.58,0.72,0.86,1.0,1.15,1.3,1.48,1.68,1.85,1.96],[0.6,0.74,0.88,1.02,1.16,1.32,1.5,1.7,1.9],[0.55,0.7,0.85,1.0,1.15,1.3,1.48,1.66,1.85],
[0.52,0.68,0.84,1.0,1.16,1.32,1.5,1.7,2.0],[0.56,0.72,0.88,1.04,1.2,1.36,1.54,1.75],
[0.5,0.66,0.82,0.98,1.14,1.3,1.48,1.68,1.9,2.1],[0.55,0.7,0.86,1.02,1.18,1.34,1.52,1.72,1.95],[0.43,0.6,0.76,0.92,1.08,1.24,1.4,1.58,1.8],
[0.52,0.68,0.84,1.0,1.16,1.32,1.5,1.7,2.0],[0.56,0.72,0.88,1.04,1.2,1.36,1.54,1.75],[0.5,0.66,0.82,0.98,1.14,1.3,1.48,1.68,1.92],
[0.54,0.7,0.86,1.02,1.18,1.34,1.52,1.72,2.1],[0.58,0.74,0.9,1.06,1.22,1.38,1.56,1.78],[0.52,0.68,0.84,1.0,1.16,1.32,1.5,1.7,1.95],
[0.56,0.72,0.88,1.04,1.2,1.36,1.54,1.75],[0.5,0.66,0.82,0.98,1.14,1.3,1.48,1.68,1.88],[0.55,0.7,0.86,1.02,1.18,1.34,1.52,1.72],
[0.48,0.64,0.8,0.96,1.12,1.28,1.46,1.66,1.92],[0.52,0.68,0.84,1.0,1.16,1.32,1.5,1.7,2.0],[0.47,0.62,0.78,0.94,1.1,1.26,1.44,1.64,1.86],
[0.54,0.7,0.86,1.02,1.18,1.34,1.52,1.74,2.05],[0.5,0.66,0.82,0.98,1.14,1.3,1.48,1.68,1.9],[0.55,0.72,0.88,1.04,1.2,1.38,1.56,1.78,2.02],
[0.5,0.66,0.84,1.0,1.18,1.36,1.54,1.76,2.0],[0.56,0.72,0.9,1.06,1.24,1.42,1.62,1.85],
[0.52,0.68,0.86,1.04,1.22,1.4,1.6,1.82,2.1,2.29,2.45,2.6,2.67],[0.48,0.66,0.84,1.02,1.2,1.38,1.58,1.8,2.05],
[0.0,0.2,0.24,0.5,0.68,0.86,1.04,1.22,1.4,1.6,1.84,2.1],[0.52,0.7,0.88,1.06,1.24,1.42,1.62,1.85,2.08],
[0.5,0.68,0.86,1.04,1.22,1.4,1.6,1.82,2.05],[0.46,0.64,0.82,1.0,1.18,1.36,1.56,1.78,2.0],
[0.5,0.68,0.86,1.04,1.22,1.4,1.6,1.84,2.2,2.4,2.55,2.7,2.86],[0.45,0.62,0.8,0.98,1.16,1.34,1.54,1.76,2.0],
[0.48,0.66,0.84,1.02,1.2,1.38,1.58,1.8,2.08],[0.44,0.6,0.78,0.96,1.14,1.32,1.52,1.74,1.98],[0.4,0.58,0.76,0.94,1.12,1.3,1.5,1.72,2.0,2.2],
[0.45,0.62,0.8,0.98,1.16,1.34,1.54,1.78,2.05],[0.42,0.6,0.78,0.96,1.14,1.32,1.52,1.75,2.15],[0.46,0.64,0.82,1.0,1.18,1.36,1.56,1.8,2.02],
[0.4,0.58,0.76,0.94,1.12,1.3,1.5,1.72,1.96],[0.44,0.62,0.8,0.98,1.16,1.34,1.54,1.76,2.1],[0.42,0.6,0.78,0.96,1.14,1.32,1.52,1.74,1.95],
[0.02,0.1,0.2,0.3,0.45,0.62,0.8,0.98,1.16,1.34,1.54,1.76,2.0,2.2,2.4],[0.05,0.18,0.4,0.58,0.76,0.94,1.12,1.3,1.5,1.72,1.98,2.7],
[0.45,0.62,0.8,0.98,1.16,1.34,1.52,1.72,1.95],
[0.5,0.66,0.84,1.0,1.18,1.36,1.54,1.75,2.05],[0.55,0.7,0.86,1.02,1.18,1.34,1.52,1.72,1.92],[0.52,0.68,0.84,1.0,1.16,1.32,1.5,1.7,2.2],
[0.56,0.72,0.88,1.04,1.2,1.36,1.54,1.74,1.95],[0.5,0.66,0.82,0.98,1.14,1.3,1.48,1.68,1.88],[0.55,0.7,0.85,1.0,1.16,1.32,1.5,1.7,1.9],
[0.52,0.68,0.84,1.0,1.16,1.32,1.48,1.66,1.85],[0.56,0.72,0.88,1.04,1.2,1.36,1.54,1.74],[0.53,0.68,0.84,1.0,1.16,1.32,1.5,1.68,1.9,2.05],
[0.55,0.7,0.86,1.02,1.18,1.34,1.52,1.72,2.13],[0.5,0.66,0.82,0.98,1.14,1.3,1.48,1.68,1.95,2.27],[0.54,0.7,0.86,1.02,1.18,1.34,1.52,1.72,1.92],
[0.52,0.66,0.82,0.98,1.14,1.3,1.46,1.64,1.84],[0.55,0.7,0.84,0.98,1.12,1.28,1.44,1.6,1.78],[0.5,0.64,0.8,0.94,1.1,1.26,1.42,1.6,1.8],
[0.53,0.67,0.82,0.96,1.1,1.25,1.4,1.56,1.72],[0.5,0.64,0.78,0.92,1.06,1.2,1.36,1.52,1.7],[0.52,0.66,0.8,0.94,1.08,1.22,1.38,1.54],
[0.48,0.62,0.76,0.9,1.04,1.18,1.34,1.5,1.65],[0.46,0.6,0.74,0.88,1.02,1.16,1.3,1.46],
[0.45,0.58,0.72,0.86,1.0,1.14,1.28,1.42,1.55],[0.43,0.56,0.7,0.84,0.98,1.12,1.26,1.4],[0.44,0.57,0.7,0.83,0.96,1.1,1.24,1.38,1.46],
[0.42,0.55,0.68,0.8,0.94,1.08,1.2,1.32],[0.4,0.52,0.64,0.76,0.88,1.0,1.12,1.25],[0.38,0.5,0.62,0.74,0.86,0.98,1.1,1.2],
[0.36,0.48,0.6,0.72,0.84,0.96,1.08,1.15],[0.33,0.45,0.58,0.7,0.82,0.94,1.06,1.2,1.32,1.42],[0.35,0.46,0.58,0.7,0.82,0.94,1.05],
[0.3,0.42,0.54,0.66,0.78,0.9,1.02,1.12],[0.28,0.4,0.52,0.64,0.76,0.88,1.0,1.35,1.77,2.03],[0.26,0.38,0.5,0.62,0.74,0.86,0.98,1.1,1.2],
[0.25,0.36,0.48,0.6,0.72,0.84,0.96,1.08,1.54,1.87,2.34],[0.22,0.34,0.46,0.58,0.7,0.82,0.94,1.06,1.18],[0.2,0.32,0.44,0.56,0.68,0.8,0.92,1.04,1.15],
[0.24,0.35,0.46,0.58,0.7,0.82,0.94,1.05],[0.2,0.32,0.44,0.56,0.68,0.8,0.92,1.0],[0.22,0.33,0.44,0.55,0.66,0.78,0.9],
[0.2,0.3,0.4,0.5,0.6,0.7,0.82,0.92],[0.18,0.28,0.38,0.48,0.58,0.7,0.82],
[0.16,0.26,0.36,0.46,0.56,0.66,0.78,0.9],[0.14,0.24,0.34,0.44,0.54,0.64,0.74],[0.15,0.25,0.35,0.45,0.55,0.65,0.75,0.85],
[0.12,0.22,0.32,0.42,0.52,0.62,0.7],[0.1,0.2,0.3,0.4,0.5,0.6,0.91],[0.08,0.18,0.28,0.38,0.48,0.56],[0.1,0.2,0.3,0.4,0.5,0.58],
[0.06,0.16,0.26,0.36,0.46,0.55],[0.08,0.18,0.28,0.38,0.48,0.63],[0.05,0.14,0.24,0.34,0.44,0.52],[0.07,0.16,0.26,0.36,0.46],
[0.04,0.13,0.22,0.32,0.42,0.5],[0.06,0.15,0.24,0.34,0.44],[0.03,0.12,0.21,0.3,0.4,0.48],[0.05,0.14,0.23,0.32,0.42],
[0.02,0.1,0.2,0.3,0.38],[0.04,0.12,0.22,0.32,0.4],[0.03,0.1,0.2,0.3],[0.05,0.14,0.24,0.34]];

// panel b, in-between samples: each row = [time, values...]
const so2Rows2 = [
[6.525,0.01,0.03],[6.575,0.0,0.02],[6.625,0.02,0.04],[6.675,0.0,0.03],[6.725,0.01,0.04],[6.775,0.02,0.05],[6.825,0.0,0.03],[6.875,0.01,0.05],
[6.925,0.03,0.06],[6.975,0.0,0.04],[7.025,0.02,0.05],[7.075,0.0,0.03],[7.125,0.01,0.04],[7.175,0.03,0.06],[7.225,0.0,0.04],[7.275,0.02,0.05],
[7.325,0.01,0.03],[7.375,0.02,0.06],[7.425,0.0,0.03],[7.475,0.01,0.05],[7.525,0.03,0.07],[7.575,0.0,0.02],[7.625,0.01,0.04],
[8.325,0.17,0.26],[8.375,0.13,0.22,0.31],[8.425,0.19,0.28,0.38],[8.475,0.16,0.24,0.32,0.41],[8.525,0.2,0.29,0.37],[8.575,0.17,0.27,0.35,0.44],
[8.625,0.22,0.31,0.39,0.47],[8.675,0.24,0.33,0.43],[8.725,0.26,0.35,0.43,0.51],[8.775,0.27,0.35,0.44,0.53,0.6],[8.825,0.3,0.39,0.48,0.57,0.69],
[8.875,0.32,0.41,0.5,0.6,0.71],[8.925,0.29,0.38,0.46,0.55,0.64,0.76],[8.975,0.35,0.43,0.52,0.61,0.71],[9.025,0.28,0.36,0.45,0.53,0.62,0.7],
[9.075,0.23,0.32,0.41,0.51,0.61,0.74],[9.125,0.18,0.25,0.35,0.44,0.53,0.62,0.76],[9.175,0.22,0.31,0.41,0.5,0.59,0.69],[9.225,0.27,0.37,0.47,0.57,0.67,0.8],
[9.275,0.24,0.34,0.45,0.55,0.66,0.77],[9.325,0.3,0.4,0.5,0.61,0.73,0.86],[9.375,0.25,0.36,0.46,0.57,0.68,0.8],[9.425,0.33,0.43,0.54,0.66,0.77,0.9],
[9.475,0.3,0.41,0.53,0.65,0.78,0.92],[9.525,0.35,0.45,0.57,0.69,0.83,0.98],[9.575,0.33,0.44,0.55,0.68,0.81,0.94,1.09],[9.625,0.32,0.43,0.55,0.67,0.79,0.92,1.02],
[9.675,0.37,0.48,0.6,0.72,0.85,0.98,1.12],[9.725,0.35,0.47,0.59,0.71,0.83,0.96,1.1],[9.775,0.33,0.45,0.58,0.71,0.84,0.97,1.13],[9.825,0.39,0.51,0.63,0.75,0.88,1.02,1.18],
[9.875,0.34,0.47,0.59,0.72,0.86,1.0,1.16],[9.925,0.37,0.5,0.62,0.74,0.87,1.01,1.19],[9.975,0.36,0.49,0.61,0.73,0.87,1.01,1.17,1.32],[10.025,0.39,0.51,0.63,0.75,0.89,1.03,1.17],
[10.075,0.33,0.47,0.61,0.75,0.89,1.03,1.18,1.33],[10.125,0.39,0.52,0.66,0.79,0.92,1.05,1.19,1.3],[10.175,0.43,0.56,0.69,0.81,0.97,1.13,1.28],
[10.225,0.42,0.55,0.68,0.81,0.95,1.09,1.23,1.38],[10.275,0.45,0.58,0.7,0.83,0.96,1.1,1.24,1.35],[10.325,0.49,0.61,0.74,0.87,1.0,1.14,1.29,1.43],
[10.375,0.47,0.6,0.73,0.86,0.99,1.13,1.27],[10.425,0.5,0.62,0.75,0.88,1.01,1.15,1.3,1.46],[10.475,0.49,0.62,0.75,0.89,1.03,1.17,1.31],
[10.525,0.52,0.65,0.78,0.91,1.05,1.19,1.33,1.48],[10.575,0.53,0.66,0.79,0.92,1.06,1.2,1.34],[10.625,0.54,0.67,0.8,0.93,1.07,1.21,1.35,1.47],
[10.675,0.55,0.67,0.8,0.94,1.08,1.22,1.37],[10.725,0.55,0.68,0.81,0.95,1.09,1.23,1.37,1.5],[10.775,0.58,0.7,0.83,0.97,1.11,1.25,1.39],
[10.825,0.57,0.7,0.84,0.98,1.12,1.26,1.41,1.49],[10.875,0.6,0.73,0.86,1.0,1.14,1.28,1.4],[10.925,0.57,0.69,0.83,0.97,1.11,1.25,1.39],
[10.975,0.58,0.71,0.85,0.99,1.13,1.27,1.41],[11.025,0.57,0.71,0.85,0.99,1.13,1.27,1.4],[11.075,0.53,0.67,0.81,0.95,1.09,1.23,1.37],
[11.125,0.55,0.69,0.83,0.97,1.11,1.25,1.39],[11.175,0.59,0.73,0.87,1.01,1.15,1.29,1.43],[11.225,0.57,0.71,0.85,0.99,1.13,1.27,1.41,1.5],
[11.275,0.6,0.74,0.88,1.02,1.16,1.3,1.44],[11.325,0.58,0.72,0.86,1.0,1.14,1.28,1.43,1.57],[11.375,0.59,0.73,0.87,1.01,1.15,1.29,1.43,1.6],
[11.425,0.57,0.71,0.85,0.99,1.13,1.27,1.42,1.57],[11.475,0.6,0.74,0.88,1.02,1.16,1.3,1.45,1.61],[11.525,0.61,0.75,0.89,1.03,1.17,1.31,1.46,1.6],
[11.575,0.58,0.72,0.86,1.0,1.14,1.28,1.43,1.59,1.74],[11.625,0.61,0.75,0.89,1.03,1.17,1.32,1.47,1.63],[11.675,0.59,0.73,0.87,1.01,1.15,1.3,1.46,1.62,1.78],
[11.725,0.56,0.7,0.84,0.98,1.12,1.27,1.43,1.61,1.79],[11.775,0.62,0.76,0.9,1.04,1.18,1.34,1.51,1.69,1.88],[11.825,0.57,0.72,0.87,1.02,1.17,1.32,1.49,1.68,1.86],
[11.875,0.58,0.73,0.89,1.05,1.21,1.37,1.55,1.75,1.93],[11.925,0.54,0.7,0.86,1.02,1.18,1.34,1.52,1.71,1.89],[11.975,0.58,0.74,0.9,1.06,1.22,1.39,1.57,1.78,2.04],
[12.025,0.53,0.68,0.84,1.0,1.16,1.32,1.5,1.7,1.88],[12.075,0.48,0.64,0.8,0.96,1.12,1.28,1.45,1.64,1.86],[12.125,0.5,0.65,0.81,0.97,1.13,1.29,1.47,1.66,1.9],
[12.175,0.54,0.7,0.86,1.02,1.18,1.34,1.52,1.72,1.93],[12.225,0.52,0.68,0.84,1.0,1.16,1.32,1.5,1.7,1.96],[12.275,0.56,0.72,0.88,1.04,1.2,1.36,1.54,1.74,1.9],
[12.325,0.51,0.67,0.83,0.99,1.15,1.31,1.49,1.69,1.97],[12.375,0.55,0.71,0.87,1.03,1.19,1.35,1.53,1.73,1.92],[12.425,0.53,0.69,0.85,1.01,1.17,1.33,1.51,1.72,1.97],
[12.475,0.52,0.68,0.84,1.0,1.16,1.32,1.5,1.7,1.84],[12.525,0.53,0.69,0.85,1.01,1.17,1.33,1.51,1.7,1.93],[12.575,0.51,0.67,0.83,0.99,1.15,1.31,1.49,1.69,1.9],
[12.625,0.5,0.66,0.82,0.98,1.14,1.3,1.48,1.68,1.96],[12.675,0.49,0.65,0.81,0.97,1.13,1.29,1.47,1.67,1.9],[12.725,0.51,0.67,0.83,0.99,1.15,1.31,1.49,1.7,1.94],
[12.775,0.52,0.68,0.84,1.0,1.16,1.32,1.5,1.71,1.97],[12.825,0.53,0.69,0.86,1.02,1.18,1.35,1.53,1.74,1.98],[12.875,0.52,0.69,0.86,1.02,1.19,1.37,1.55,1.77,2.01],
[12.925,0.53,0.7,0.87,1.04,1.21,1.39,1.58,1.8,2.05],[12.975,0.54,0.7,0.88,1.05,1.23,1.41,1.61,1.83,2.08],[13.025,0.5,0.67,0.85,1.03,1.21,1.39,1.59,1.81,2.03],
[13.075,0.49,0.67,0.85,1.03,1.21,1.39,1.59,1.82,2.1],[13.125,0.51,0.69,0.87,1.05,1.23,1.41,1.61,1.84,2.06],[13.175,0.48,0.66,0.84,1.02,1.2,1.38,1.58,1.8,2.02],
[13.225,0.52,0.7,0.88,1.06,1.24,1.42,1.62,1.86,2.12],[13.275,0.47,0.65,0.83,1.01,1.19,1.37,1.57,1.8,2.04],[13.325,0.48,0.66,0.84,1.02,1.2,1.38,1.58,1.8,2.01],
[13.375,0.46,0.64,0.82,1.0,1.18,1.36,1.56,1.78,2.06],[13.425,0.45,0.63,0.81,0.99,1.17,1.35,1.55,1.77,2.03],[13.475,0.43,0.61,0.79,0.97,1.15,1.33,1.53,1.75,1.99],
[13.525,0.41,0.59,0.77,0.95,1.13,1.31,1.51,1.74,2.08],[13.575,0.43,0.61,0.79,0.97,1.15,1.33,1.53,1.76,2.0],[13.625,0.44,0.62,0.8,0.98,1.16,1.34,1.54,1.77,2.1],
[13.675,0.41,0.59,0.77,0.95,1.13,1.31,1.51,1.74,1.98],[13.725,0.42,0.6,0.78,0.96,1.14,1.32,1.52,1.74,2.03],[13.775,0.43,0.61,0.79,0.97,1.15,1.33,1.53,1.75,1.97],
[13.825,0.33,0.5,0.68,0.86,1.04,1.22,1.42,1.64,1.88,2.12],[13.875,0.25,0.43,0.6,0.78,0.96,1.14,1.33,1.53,1.75,2.0],[13.925,0.36,0.53,0.71,0.89,1.07,1.25,1.44,1.65,1.89],
[13.975,0.48,0.64,0.82,0.99,1.17,1.35,1.53,1.73,1.98],[14.025,0.52,0.68,0.85,1.01,1.17,1.33,1.51,1.71,1.91],[14.075,0.54,0.69,0.85,1.01,1.17,1.33,1.51,1.71,1.98],
[14.125,0.53,0.69,0.85,1.01,1.17,1.33,1.51,1.71,1.89],[14.175,0.52,0.68,0.84,1.0,1.16,1.32,1.5,1.7,1.92],[14.225,0.54,0.69,0.84,0.99,1.15,1.31,1.49,1.69,1.87],
[14.275,0.51,0.67,0.83,0.99,1.15,1.31,1.49,1.68,1.94],[14.325,0.54,0.7,0.86,1.02,1.18,1.34,1.52,1.72,1.88],[14.375,0.51,0.66,0.82,0.98,1.14,1.3,1.47,1.66,1.95],
[14.425,0.54,0.69,0.85,1.01,1.17,1.33,1.51,1.7,1.92],[14.475,0.52,0.68,0.84,1.0,1.16,1.32,1.5,1.7,2.02],[14.525,0.51,0.67,0.83,0.99,1.15,1.31,1.49,1.69,1.88],
[14.575,0.53,0.68,0.84,1.0,1.15,1.31,1.48,1.66,1.86],[14.625,0.51,0.66,0.81,0.96,1.11,1.27,1.43,1.61,1.81],[14.675,0.52,0.67,0.82,0.96,1.11,1.26,1.42,1.59,1.75],
[14.725,0.51,0.65,0.8,0.95,1.09,1.24,1.39,1.55,1.74],[14.775,0.5,0.64,0.79,0.93,1.07,1.22,1.38,1.54,1.68],[14.825,0.49,0.63,0.78,0.92,1.06,1.21,1.36,1.52,1.64],
[14.875,0.5,0.64,0.78,0.92,1.06,1.2,1.35,1.51],[14.925,0.47,0.61,0.75,0.89,1.03,1.17,1.32,1.48,1.6],[14.975,0.44,0.58,0.72,0.86,1.0,1.14,1.29,1.44,1.52],
[15.025,0.44,0.57,0.71,0.85,0.99,1.13,1.27,1.41,1.5],[15.075,0.42,0.55,0.69,0.83,0.97,1.11,1.25,1.38],[15.125,0.41,0.54,0.67,0.81,0.95,1.09,1.22,1.35],
[15.175,0.39,0.52,0.65,0.78,0.91,1.04,1.16,1.28],[15.225,0.39,0.51,0.63,0.75,0.87,0.99,1.11,1.22],[15.275,0.35,0.47,0.6,0.72,0.85,0.97,1.09,1.18],
[15.325,0.32,0.44,0.57,0.69,0.81,0.93,1.05,1.13],[15.375,0.34,0.46,0.58,0.71,0.83,0.95,1.07,1.18,1.26],[15.425,0.31,0.43,0.55,0.67,0.79,0.91,1.03,1.09],
[15.475,0.29,0.41,0.53,0.65,0.77,0.89,1.01,1.1],[15.525,0.27,0.39,0.51,0.63,0.75,0.87,0.99,1.08,1.28],[15.575,0.26,0.38,0.5,0.62,0.73,0.85,0.97,1.06,1.16],
[15.625,0.23,0.35,0.47,0.59,0.71,0.83,0.95,1.03],[15.675,0.21,0.33,0.45,0.57,0.69,0.81,0.93,1.04],[15.725,0.22,0.33,0.45,0.57,0.69,0.81,0.93,1.01],
[15.775,0.21,0.33,0.45,0.57,0.69,0.8,0.91,0.98],[15.825,0.21,0.32,0.43,0.54,0.65,0.76,0.87,0.95],[15.875,0.19,0.29,0.39,0.49,0.59,0.69,0.8,0.89],
[15.925,0.17,0.27,0.37,0.47,0.57,0.68,0.79],[15.975,0.15,0.25,0.35,0.45,0.55,0.65,0.76,0.84],[16.025,0.15,0.25,0.35,0.45,0.55,0.65,0.72],
[16.075,0.13,0.23,0.33,0.43,0.53,0.63,0.7,0.79],[16.125,0.11,0.21,0.31,0.41,0.51,0.61,0.68],[16.175,0.09,0.19,0.29,0.39,0.49,0.59,0.66],
[16.225,0.09,0.19,0.29,0.39,0.49,0.55],[16.275,0.07,0.17,0.27,0.37,0.47,0.54],[16.325,0.07,0.17,0.27,0.37,0.47,0.52],[16.375,0.06,0.15,0.25,0.35,0.45,0.5],
[16.425,0.05,0.15,0.25,0.35,0.45,0.51],[16.475,0.05,0.14,0.24,0.33,0.43],[16.525,0.04,0.14,0.23,0.33,0.43,0.48],[16.575,0.04,0.13,0.23,0.32,0.41],
[16.625,0.03,0.12,0.22,0.32,0.41,0.46],[16.675,0.03,0.12,0.21,0.31,0.39],[16.725,0.03,0.11,0.21,0.3,0.37,0.44],[16.775,0.02,0.11,0.2,0.29,0.37],
[16.825,0.02,0.1,0.19,0.28,0.36],[16.875,0.04,0.12,0.21,0.29]];

// panel b, further samples: each row = [time, values...]
const so2Rows3 = [
[8.36,0.19,0.28],[8.46,0.2,0.27,0.36],[8.56,0.21,0.29,0.37],[8.66,0.22,0.3,0.38,0.46],[8.76,0.26,0.34,0.42,0.5,0.58],[8.86,0.33,0.41,0.5,0.6,0.72],
[8.96,0.36,0.44,0.53,0.63,0.72],[9.06,0.29,0.38,0.47,0.56,0.66,0.78],[9.16,0.23,0.33,0.43,0.52,0.61,0.71],[9.26,0.3,0.4,0.5,0.6,0.7,0.82],
[9.36,0.33,0.43,0.53,0.64,0.76,0.88],[9.46,0.35,0.46,0.57,0.68,0.8,0.94],[9.56,0.37,0.48,0.6,0.73,0.87,1.02,1.18],[9.66,0.41,0.52,0.64,0.76,0.89,1.02,1.16],
[9.76,0.44,0.56,0.68,0.8,0.92,1.05],[9.86,0.42,0.54,0.66,0.78,0.92,1.06,1.2],[9.96,0.46,0.58,0.7,0.82,0.95,1.09,1.24],[10.06,0.46,0.58,0.7,0.82,0.96,1.1,1.26],
[10.16,0.48,0.61,0.74,0.87,1.01,1.15,1.3],[10.26,0.46,0.58,0.71,0.85,0.99,1.13,1.27],[10.36,0.55,0.68,0.81,0.94,1.07,1.21,1.36],
[10.46,0.56,0.69,0.82,0.96,1.1,1.24,1.38],[10.56,0.59,0.72,0.85,0.99,1.13,1.27,1.41],[10.66,0.6,0.73,0.86,1.0,1.14,1.28,1.42],
[10.76,0.61,0.74,0.88,1.02,1.16,1.3,1.45],[10.86,0.63,0.76,0.9,1.04,1.18,1.32,1.45],[10.96,0.65,0.78,0.92,1.06,1.2,1.34,1.47],
[11.06,0.64,0.78,0.92,1.06,1.2,1.34,1.47],[11.16,0.62,0.76,0.9,1.04,1.18,1.32,1.46],[11.26,0.66,0.8,0.94,1.08,1.22,1.36,1.5],
[11.36,0.65,0.79,0.93,1.07,1.21,1.36,1.51],[11.46,0.66,0.8,0.94,1.08,1.22,1.37,1.53],[11.56,0.68,0.82,0.96,1.1,1.24,1.39,1.55,1.67],
[11.66,0.66,0.8,0.94,1.08,1.22,1.38,1.54,1.7],[11.76,0.65,0.8,0.95,1.1,1.25,1.4,1.58,1.77],[11.86,0.62,0.78,0.94,1.1,1.26,1.41,1.59,1.78],
[11.96,0.63,0.79,0.95,1.11,1.27,1.44,1.63,1.84],[12.06,0.62,0.78,0.94,1.1,1.26,1.42,1.61,1.83],[12.16,0.6,0.76,0.92,1.08,1.24,1.41,1.6,1.82],
[12.26,0.6,0.76,0.92,1.08,1.24,1.41,1.61,1.83],[12.36,0.63,0.79,0.95,1.11,1.27,1.44,1.63,1.86],[12.46,0.6,0.76,0.92,1.08,1.24,1.41,1.6,1.8],
[12.56,0.61,0.77,0.93,1.09,1.25,1.42,1.61,1.81],[12.66,0.58,0.74,0.9,1.06,1.22,1.39,1.58,1.78],[12.76,0.6,0.76,0.92,1.08,1.24,1.41,1.61,1.84],
[12.86,0.61,0.78,0.95,1.11,1.28,1.46,1.66,1.89],[12.96,0.62,0.79,0.97,1.14,1.32,1.51,1.72,1.95],[13.06,0.58,0.76,0.94,1.12,1.3,1.49,1.7,1.94],
[13.16,0.6,0.78,0.96,1.14,1.32,1.51,1.72,1.96],[13.26,0.56,0.74,0.92,1.1,1.28,1.47,1.69,1.92],[13.36,0.55,0.73,0.91,1.09,1.27,1.46,1.67,1.91],
[13.46,0.52,0.7,0.88,1.06,1.24,1.43,1.64,1.87],[13.56,0.52,0.7,0.88,1.06,1.24,1.43,1.64,1.89],[13.66,0.5,0.68,0.86,1.04,1.22,1.41,1.62,1.86],
[13.76,0.51,0.69,0.87,1.05,1.23,1.42,1.63,1.86],[13.86,0.38,0.55,0.72,0.89,1.07,1.25,1.44,1.65,1.88],[13.96,0.55,0.72,0.9,1.08,1.26,1.44,1.63,1.85],
[14.06,0.61,0.77,0.93,1.09,1.25,1.42,1.61,1.81],[14.16,0.6,0.76,0.92,1.08,1.24,1.41,1.6,1.8],[14.26,0.61,0.77,0.92,1.08,1.24,1.4,1.59,1.79],
[14.36,0.61,0.77,0.93,1.09,1.25,1.42,1.61,1.81],[14.46,0.6,0.76,0.92,1.08,1.24,1.41,1.6,1.82],[14.56,0.61,0.76,0.92,1.08,1.24,1.4,1.58,1.78],
[14.66,0.59,0.74,0.89,1.03,1.18,1.34,1.5,1.67],[14.76,0.57,0.71,0.86,1.0,1.14,1.3,1.46,1.62],[14.86,0.56,0.7,0.85,0.99,1.13,1.28,1.44,1.58],
[14.96,0.52,0.66,0.8,0.94,1.08,1.22,1.37,1.5],[15.06,0.49,0.62,0.76,0.9,1.04,1.18,1.32],[15.16,0.47,0.6,0.73,0.86,1.0,1.14,1.26],
[15.26,0.43,0.55,0.67,0.79,0.92,1.04,1.15],[15.36,0.39,0.51,0.63,0.76,0.88,1.0,1.12],[15.46,0.35,0.47,0.59,0.71,0.83,0.95,1.06],
[15.56,0.31,0.43,0.55,0.67,0.79,0.91,1.02],[15.66,0.27,0.39,0.51,0.63,0.75,0.87,0.98],[15.76,0.27,0.39,0.51,0.62,0.74,0.86,0.96],
[15.86,0.24,0.35,0.45,0.55,0.65,0.75,0.85],[15.96,0.21,0.31,0.41,0.51,0.61,0.72],[16.06,0.19,0.29,0.39,0.49,0.59,0.69],
[16.16,0.16,0.26,0.36,0.46,0.56,0.64],[16.26,0.13,0.22,0.32,0.42,0.51],[16.36,0.11,0.2,0.3,0.4,0.49],[16.46,0.1,0.19,0.29,0.38,0.47],
[16.56,0.08,0.17,0.27,0.37,0.45],[16.66,0.07,0.16,0.26,0.35,0.43],[16.76,0.07,0.15,0.24,0.33],[16.86,0.07,0.16,0.25]];

// ---------- flatten into points ----------
function flatten(times, cols, rowSets) {
  const x = [], y = [];
  times.forEach((t, i) => (cols[i] || []).forEach(v => { x.push(t); y.push(v); }));
  rowSets.forEach(rows => rows.forEach(r => r.slice(1).forEach(v => { x.push(r[0]); y.push(v); })));
  return {x, y};
}
const ptsA = flatten(dmsTimes, dmsCols, [dmsRows2, dmsRows3]);
const ptsB = flatten(so2Times, so2Cols, [so2Rows2, so2Rows3]);

const FONT = 'Liberation Sans, Arial, Helvetica, sans-serif';
const SERIF = 'Liberation Serif, Times New Roman, serif';
const BLUE = '#0a66e2';
const PINK = '#e2539c';
const DOT = 4.6;

// plot-area pixel frame (for placing decorations only)
const PL = 66, PR = 807, PT = 45, PB = 554;
const px = v => (v - PL) / (PR - PL);
const py = v => (PB - v) / (PB - PT);

const traces = [
  {x: ptsA.x, y: ptsA.y, xaxis: 'x', yaxis: 'y', type: 'scatter', mode: 'markers',
   name: legendLabels[0], marker: {color: '#000', size: DOT}, showlegend: false},
  {x: hoursA_low, y: dmsLowCO, xaxis: 'x', yaxis: 'y', type: 'scatter', mode: 'lines',
   name: legendLabels[1], line: {color: BLUE, width: 9}, showlegend: false},
  {x: hoursA_high, y: dmsHighCO, xaxis: 'x', yaxis: 'y', type: 'scatter', mode: 'lines',
   name: legendLabels[2], line: {color: PINK, width: 6}, showlegend: false},
  {x: ptsB.x, y: ptsB.y, xaxis: 'x2', yaxis: 'y2', type: 'scatter', mode: 'markers',
   name: legendLabels[0], marker: {color: '#000', size: DOT}, showlegend: false},
  {x: hoursB_low, y: so2LowCO, xaxis: 'x2', yaxis: 'y2', type: 'scatter', mode: 'lines',
   name: legendLabels[1], line: {color: BLUE, width: 9}, showlegend: false},
  {x: hoursB_high, y: so2HighCO, xaxis: 'x2', yaxis: 'y2', type: 'scatter', mode: 'lines',
   name: legendLabels[2], line: {color: PINK, width: 6}, showlegend: false}
];

const xBase = {range: [6, 18], tickvals: hourTicks, ticktext: hourTickText, ticks: 'inside',
  ticklen: 6, tickwidth: 1.5, tickcolor: '#000', mirror: 'ticks', showline: true, linewidth: 2,
  linecolor: '#000', showgrid: false, zeroline: false, tickfont: {size: 24, family: FONT, color: '#000'}};
const yBase = {ticks: 'inside', ticklen: 6, tickwidth: 1.5, tickcolor: '#000', mirror: 'ticks',
  showline: true, linewidth: 2, linecolor: '#000', showgrid: false, zeroline: false,
  tickfont: {size: 24, family: FONT, color: '#000'}};

// legend (drawn as shapes + text, positioned in the top panel)
const legRows = [70, 99, 127];
const shapes = [
  {type: 'rect', xref: 'paper', yref: 'paper', x0: px(607), x1: px(800), y0: py(146), y1: py(52),
   fillcolor: '#fff', line: {color: '#000', width: 2}, layer: 'above'},
  {type: 'circle', xref: 'paper', yref: 'paper', x0: px(636.5), x1: px(639.5), y0: py(legRows[0] + 1.5), y1: py(legRows[0] - 1.5),
   fillcolor: '#000', line: {color: '#000', width: 0}, layer: 'above'},
  {type: 'line', xref: 'paper', yref: 'paper', x0: px(617), x1: px(660), y0: py(legRows[1]), y1: py(legRows[1]),
   line: {color: BLUE, width: 9}, layer: 'above'},
  {type: 'line', xref: 'paper', yref: 'paper', x0: px(617), x1: px(660), y0: py(legRows[2]), y1: py(legRows[2]),
   line: {color: PINK, width: 6}, layer: 'above'}
];
const legendAnn = legendLabels.map((t, i) => ({text: t, xref: 'paper', yref: 'paper', x: px(664), y: py(legRows[i]),
  xanchor: 'left', yanchor: 'middle', showarrow: false, font: {size: 23, family: FONT, color: '#000'}}));

const layout = {
  width: 840, height: 611,
  margin: {l: PL, r: 840 - PR, t: PT, b: 611 - PB},
  paper_bgcolor: '#fff', plot_bgcolor: '#fff',
  font: {family: FONT, color: '#000', size: 24},
  showlegend: false,
  xaxis: Object.assign({}, xBase, {domain: [0, 1], anchor: 'y'}),
  yaxis: Object.assign({}, yBase, {domain: [py(254), 1], anchor: 'x', range: [0, 3], tickvals: yTicksA}),
  xaxis2: Object.assign({}, xBase, {domain: [0, 1], anchor: 'y2'}),
  yaxis2: Object.assign({}, yBase, {domain: [0, py(345)], anchor: 'x2', range: [0, 2.98], tickvals: yTicksB}),
  shapes: shapes,
  annotations: legendAnn.concat([
    {text: 'a) DMS+OH', xref: 'paper', yref: 'paper', x: px(80), y: py(68), xanchor: 'left', yanchor: 'middle',
     showarrow: false, font: {size: 27}},
    {text: 'b) SO<sub>2</sub>+OH', xref: 'paper', yref: 'paper', x: px(80), y: py(370), xanchor: 'left', yanchor: 'middle',
     showarrow: false, font: {size: 27}},
    {text: 'x 10<sup>−7</sup>', xref: 'paper', yref: 'paper', x: 0, y: py(43), xanchor: 'left', yanchor: 'bottom',
     showarrow: false, font: {size: 22}},
    {text: 'x 10<sup>−8</sup>', xref: 'paper', yref: 'paper', x: 0, y: py(343), xanchor: 'left', yanchor: 'bottom',
     showarrow: false, font: {size: 22}},
    {text: '<i>μ</i>mol  m<sup>−3</sup>  s<sup>−1</sup>', xref: 'paper', yref: 'paper', x: px(33), y: py(151),
     xanchor: 'center', yanchor: 'middle', textangle: -90, showarrow: false, font: {size: 27, family: SERIF}},
    {text: '<i>μ</i>mol  m<sup>−3</sup>  s<sup>−1</sup>', xref: 'paper', yref: 'paper', x: px(33), y: py(451),
     xanchor: 'center', yanchor: 'middle', textangle: -90, showarrow: false, font: {size: 27, family: SERIF}},
    {text: 'Local Time of Day', xref: 'paper', yref: 'paper', x: px(437), y: py(597), xanchor: 'center',
     yanchor: 'middle', showarrow: false, font: {size: 27}}
  ])
};

Plotly.newPlot('chart', traces, layout, {displayModeBar: false, staticPlot: true});
</script>
</body></html>
